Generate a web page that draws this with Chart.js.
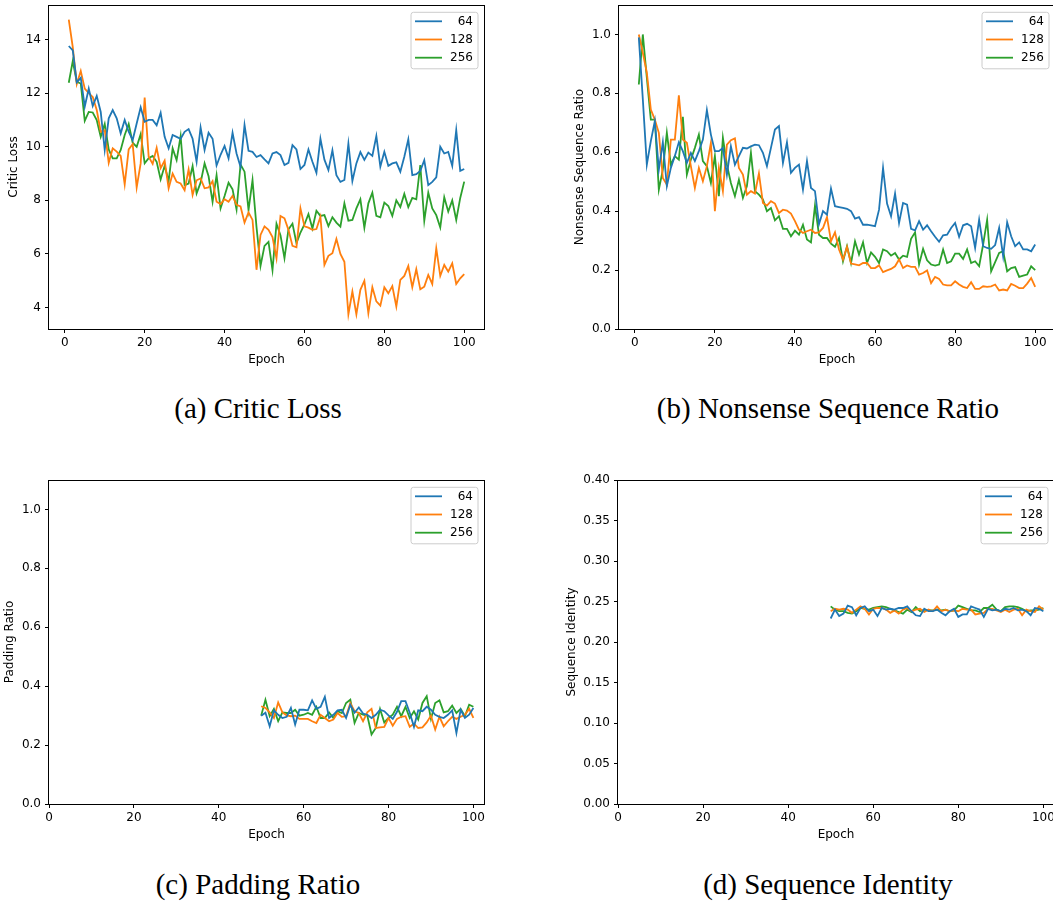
<!DOCTYPE html>
<html>
<head>
<meta charset="utf-8">
<script src="https://cdn.jsdelivr.net/npm/chart.js@4.4.1/dist/chart.umd.min.js"></script>
<style>
  html, body { margin: 0; padding: 0; background: #fff; }
  body { width: 1053px; height: 902px; overflow: hidden; position: relative; }
  canvas { position: absolute; }
  .caption { position: absolute; width: 500px; text-align: center; font-family: 'Liberation Serif', 'Times New Roman', serif; font-size: 29px; line-height: 29px; color: #000; white-space: nowrap; }
</style>
</head>
<body>
<canvas id="critic" width="500" height="380" style="left:0px;top:0px"></canvas>
<canvas id="nonsense" width="500" height="380" style="left:560px;top:0px"></canvas>
<canvas id="padding" width="500" height="380" style="left:0px;top:470px"></canvas>
<canvas id="identity" width="500" height="380" style="left:560px;top:470px"></canvas>
<div class="caption" style="left:8px;top:394px">(a) Critic Loss</div>
<div class="caption" style="left:578px;top:394px">(b) Nonsense Sequence Ratio</div>
<div class="caption" style="left:8px;top:870px">(c) Padding Ratio</div>
<div class="caption" style="left:578px;top:870px">(d) Sequence Identity</div>
<script>
const seriesLabels = ['  64', '128', '256'];
const seriesColors = ['#1f77b4', '#ff7f0e', '#2ca02c'];

const epochsFull = Array.from({ length: 100 }, (_, i) => i + 1);
const epochsLate = Array.from({ length: 51 }, (_, i) => i + 50);

const epochTicks = [0, 20, 40, 60, 80, 100];
const criticTicks = [4, 6, 8, 10, 12, 14];
const ratioTicks = [0, 0.2, 0.4, 0.6, 0.8, 1.0];
const identityTicks = [0, 0.05, 0.10, 0.15, 0.20, 0.25, 0.30, 0.35, 0.40];

// (a) critic loss, epochs 1..100
const critic64 = [13.76, 13.6, 12.4, 12.57, 11.5, 12.17, 11.52, 11.9, 11.3, 9.88,
  11.06, 11.37, 11.06, 10.5, 11.0, 10.56, 10.25, 10.87, 11.47, 10.93,
  11.0, 11.0, 10.8, 11.27, 10.37, 9.94, 10.44, 10.37, 10.3, 10.56,
  10.66, 10.3, 9.44, 10.72, 9.88, 10.52, 10.3, 9.3, 9.7, 10.03,
  9.57, 10.52, 9.75, 9.25, 10.81, 9.85, 9.81, 9.62, 9.69, 9.53,
  9.38, 9.75, 9.8, 9.69, 9.32, 9.4, 10.06, 9.9, 9.17, 9.32,
  9.9, 9.44, 9.03, 10.3, 9.52, 9.13, 9.87, 8.94, 8.69, 8.76,
  10.12, 8.72, 9.38, 9.8, 9.51, 9.78, 9.66, 10.4, 9.26, 9.81,
  9.29, 9.38, 9.42, 9.07, 9.63, 10.28, 8.94, 8.98, 9.1, 9.5,
  8.57, 8.69, 8.86, 10.0, 9.75, 9.81, 9.29, 10.62, 9.1, 9.17];
const critic128 = [14.74, 13.72, 12.34, 12.83, 12.17, 12.0, 11.86, 11.37, 10.56, 10.62,
  9.4, 9.94, 9.82, 9.66, 8.6, 9.9, 10.1, 8.48, 9.38, 11.84,
  9.63, 9.36, 9.96, 9.2, 9.48, 8.45, 9.0, 8.69, 8.63, 8.38,
  9.15, 8.2, 8.75, 8.82, 8.45, 8.48, 8.72, 7.95, 7.86, 8.04,
  7.95, 8.17, 7.83, 7.77, 7.17, 7.55, 7.27, 5.41, 6.71, 7.03,
  6.9, 6.63, 5.84, 7.42, 7.33, 6.9, 6.3, 6.25, 7.7, 7.03,
  6.98, 6.9, 6.93, 7.39, 5.59, 5.93, 6.03, 6.56, 6.0, 5.71,
  3.75, 4.6, 3.75, 4.66, 5.0, 3.79, 4.76, 4.23, 4.07, 4.76,
  4.53, 4.8, 4.04, 5.03, 5.18, 5.55, 4.76, 5.43, 4.68, 4.78,
  5.22, 4.88, 6.21, 5.18, 5.59, 5.34, 5.65, 4.88, 5.09, 5.25];
const critic256 = [12.39, 13.2, 12.42, 12.36, 10.97, 11.3, 11.28, 11.0, 10.37, 10.85,
  9.9, 9.57, 9.57, 9.88, 10.44, 10.85, 10.15, 10.0, 10.47, 9.38,
  9.57, 9.66, 9.44, 8.78, 9.29, 8.72, 9.94, 9.5, 10.4, 8.57,
  8.63, 9.28, 8.26, 8.66, 9.38, 8.9, 7.95, 8.94, 7.7, 8.16,
  8.66, 8.41, 7.66, 9.34, 9.07, 7.64, 8.76, 7.0, 5.55, 6.3,
  6.45, 5.4, 7.13, 6.7, 5.84, 6.92, 7.13, 6.4, 6.8, 7.1,
  7.49, 6.95, 7.61, 7.42, 7.45, 7.04, 7.37, 7.17, 7.02, 7.89,
  7.24, 7.27, 7.7, 8.04, 6.98, 7.89, 8.29, 7.42, 7.37, 7.92,
  7.79, 7.42, 8.0, 7.75, 8.24, 7.75, 8.09, 8.04, 9.32, 7.24,
  8.29, 7.7, 7.45, 6.99, 8.12, 7.58, 8.0, 7.27, 8.09, 8.7];

// (b) nonsense sequence ratio, epochs 1..100
const nonsense64 = [0.99, 0.78, 0.558, 0.638, 0.706, 0.541, 0.634, 0.485, 0.547, 0.587,
  0.634, 0.604, 0.564, 0.598, 0.57, 0.604, 0.643, 0.743, 0.66, 0.604,
  0.604, 0.615, 0.524, 0.62, 0.558, 0.587, 0.615, 0.613, 0.62, 0.626,
  0.624, 0.598, 0.553, 0.615, 0.677, 0.689, 0.564, 0.634, 0.53, 0.547,
  0.558, 0.473, 0.57, 0.479, 0.468, 0.356, 0.4, 0.388, 0.477, 0.417,
  0.414, 0.411, 0.408, 0.4, 0.375, 0.38, 0.354, 0.354, 0.352, 0.349,
  0.405, 0.547, 0.426, 0.383, 0.46, 0.36, 0.428, 0.422, 0.34, 0.335,
  0.366, 0.337, 0.352, 0.332, 0.313, 0.296, 0.318, 0.32, 0.343, 0.36,
  0.313, 0.352, 0.357, 0.349, 0.275, 0.371, 0.281, 0.275, 0.272, 0.285,
  0.343, 0.247, 0.362, 0.315, 0.281, 0.294, 0.27, 0.27, 0.264, 0.287];
const nonsense128 = [1.0, 0.938, 0.87, 0.745, 0.711, 0.666, 0.513, 0.49, 0.643, 0.643,
  0.793, 0.643, 0.632, 0.553, 0.479, 0.547, 0.502, 0.553, 0.632, 0.4,
  0.547, 0.468, 0.626, 0.641, 0.647, 0.547, 0.524, 0.456, 0.468, 0.46,
  0.528, 0.428, 0.419, 0.434, 0.426, 0.394, 0.405, 0.402, 0.392, 0.366,
  0.337, 0.326, 0.332, 0.337, 0.326, 0.328, 0.343, 0.38, 0.298, 0.328,
  0.27, 0.236, 0.279, 0.222, 0.219, 0.216, 0.224, 0.224, 0.207, 0.207,
  0.216, 0.193, 0.199, 0.204, 0.213, 0.236, 0.207, 0.216, 0.211, 0.211,
  0.185, 0.19, 0.199, 0.156, 0.177, 0.17, 0.151, 0.148, 0.148, 0.162,
  0.151, 0.143, 0.139, 0.159, 0.136, 0.136, 0.145, 0.143, 0.145, 0.151,
  0.131, 0.134, 0.131, 0.153, 0.147, 0.139, 0.139, 0.154, 0.173, 0.143];
const nonsense256 = [0.83, 1.0, 0.853, 0.711, 0.711, 0.473, 0.541, 0.666, 0.558, 0.587,
  0.575, 0.72, 0.524, 0.575, 0.615, 0.66, 0.57, 0.553, 0.496, 0.587,
  0.451, 0.649, 0.558, 0.496, 0.451, 0.507, 0.445, 0.485, 0.598, 0.468,
  0.456, 0.44, 0.4, 0.411, 0.369, 0.383, 0.34, 0.34, 0.315, 0.334,
  0.32, 0.354, 0.304, 0.294, 0.419, 0.32, 0.309, 0.309, 0.29, 0.279,
  0.309, 0.23, 0.281, 0.224, 0.298, 0.253, 0.294, 0.224, 0.26, 0.245,
  0.224, 0.27, 0.264, 0.249, 0.258, 0.236, 0.249, 0.245, 0.306, 0.328,
  0.219, 0.272, 0.233, 0.219, 0.215, 0.219, 0.27, 0.224, 0.23, 0.256,
  0.256, 0.238, 0.27, 0.224, 0.23, 0.213, 0.287, 0.371, 0.196, 0.227,
  0.258, 0.264, 0.196, 0.207, 0.21, 0.177, 0.181, 0.185, 0.213, 0.2];

// (c) padding ratio, epochs 50..100
const padding64 = [0.30, 0.31, 0.264, 0.318, 0.303, 0.292, 0.296, 0.326, 0.27, 0.32,
  0.32, 0.318, 0.352, 0.323, 0.33, 0.364, 0.292, 0.303, 0.318, 0.32,
  0.292, 0.337, 0.31, 0.328, 0.307, 0.303, 0.292, 0.303, 0.32, 0.315,
  0.301, 0.289, 0.313, 0.349, 0.349, 0.31, 0.262, 0.318, 0.315, 0.33,
  0.32, 0.303, 0.296, 0.292, 0.303, 0.318, 0.241, 0.32, 0.292, 0.303, 0.326];
const padding128 = [0.332, 0.326, 0.311, 0.292, 0.345, 0.311, 0.301, 0.298, 0.30, 0.289,
  0.289, 0.289, 0.281, 0.275, 0.303, 0.292, 0.281, 0.287, 0.309, 0.296,
  0.298, 0.343, 0.315, 0.309, 0.281, 0.311, 0.323, 0.258, 0.26, 0.262,
  0.292, 0.266, 0.289, 0.296, 0.298, 0.262, 0.273, 0.258, 0.26, 0.277,
  0.30, 0.253, 0.296, 0.264, 0.281, 0.296, 0.289, 0.296, 0.303, 0.323, 0.292];
const padding256 = [0.30, 0.354, 0.298, 0.323, 0.281, 0.311, 0.309, 0.309, 0.32, 0.30,
  0.303, 0.309, 0.303, 0.33, 0.292, 0.292, 0.311, 0.292, 0.315, 0.309,
  0.343, 0.354, 0.275, 0.309, 0.303, 0.30, 0.236, 0.258, 0.323, 0.277,
  0.292, 0.303, 0.33, 0.298, 0.33, 0.292, 0.315, 0.287, 0.343, 0.366,
  0.289, 0.343, 0.352, 0.311, 0.315, 0.334, 0.309, 0.323, 0.298, 0.337, 0.33];

// (d) sequence identity, epochs 50..100
const identity64 = [0.229, 0.24, 0.232, 0.235, 0.245, 0.243, 0.233, 0.242, 0.244, 0.238,
  0.24, 0.232, 0.242, 0.24, 0.241, 0.24, 0.242, 0.242, 0.244, 0.238,
  0.233, 0.232, 0.241, 0.238, 0.238, 0.24, 0.236, 0.233, 0.238, 0.241,
  0.231, 0.234, 0.234, 0.244, 0.242, 0.24, 0.231, 0.241, 0.239, 0.24,
  0.238, 0.241, 0.24, 0.242, 0.239, 0.24, 0.238, 0.233, 0.242, 0.241, 0.238];
const identity128 = [0.238, 0.241, 0.24, 0.241, 0.24, 0.236, 0.24, 0.244, 0.241, 0.234,
  0.241, 0.242, 0.242, 0.24, 0.236, 0.239, 0.235, 0.24, 0.242, 0.238,
  0.24, 0.241, 0.237, 0.24, 0.238, 0.244, 0.238, 0.24, 0.238, 0.239,
  0.238, 0.241, 0.24, 0.24, 0.234, 0.235, 0.236, 0.241, 0.241, 0.239,
  0.237, 0.24, 0.237, 0.24, 0.241, 0.233, 0.24, 0.238, 0.237, 0.244, 0.24];
const identity256 = [0.244, 0.24, 0.238, 0.238, 0.236, 0.235, 0.238, 0.242, 0.241, 0.24,
  0.242, 0.243, 0.244, 0.243, 0.241, 0.239, 0.237, 0.235, 0.24, 0.237,
  0.243, 0.238, 0.24, 0.239, 0.239, 0.24, 0.239, 0.24, 0.238, 0.239,
  0.245, 0.243, 0.241, 0.239, 0.239, 0.237, 0.242, 0.242, 0.246, 0.24,
  0.238, 0.243, 0.244, 0.244, 0.243, 0.241, 0.238, 0.239, 0.239, 0.24, 0.242];

const tickFont = { family: 'DejaVu Sans', size: 12 };

// top/right spines + matplotlib-style legend box in the upper right corner
const framePlugin = {
  id: 'frame',
  afterDraw(chart) {
    const { ctx, chartArea: a } = chart;
    ctx.save();
    ctx.strokeStyle = '#000';
    ctx.lineWidth = 1;
    ctx.strokeRect(Math.round(a.left) - 0.5, Math.round(a.top) + 0.5,
      Math.round(a.right) - Math.round(a.left) + 1, Math.round(a.bottom) - Math.round(a.top));

    const boxW = 67, boxH = 56.5;
    const bx = a.right - 6.5 - boxW, by = a.top + 6.8;
    ctx.beginPath();
    ctx.roundRect(bx + 0.5, by + 0.5, boxW, boxH, 2.5);
    ctx.fillStyle = 'rgba(255,255,255,0.8)';
    ctx.fill();
    ctx.strokeStyle = '#cccccc';
    ctx.stroke();

    ctx.font = '12px "DejaVu Sans"';
    ctx.textAlign = 'right';
    ctx.textBaseline = 'middle';
    chart.data.datasets.forEach((ds, i) => {
      const ry = by + 9.5 + i * 18.2;
      ctx.beginPath();
      ctx.moveTo(bx + 4.5, ry);
      ctx.lineTo(bx + 31.5, ry);
      ctx.strokeStyle = ds.borderColor;
      ctx.lineWidth = 1.8;
      ctx.stroke();
      ctx.fillStyle = '#000';
      ctx.fillText(ds.label.trim(), bx + boxW - 4.5, ry + 0.5);
    });
    ctx.restore();
  }
};

const makeChart = (id, cfg) => {
  const ctx = document.getElementById(id).getContext('2d');
  const datasets = cfg.series.map((values, i) => ({
    label: seriesLabels[i],
    data: values.map((v, j) => ({ x: cfg.epochs[j], y: v })),
    borderColor: seriesColors[i],
    backgroundColor: seriesColors[i],
    borderWidth: 1.8,
    pointRadius: 0,
    tension: 0,
    fill: false
  }));
  const zeroPad = s => { s.paddingTop = 0; s.paddingBottom = 0; s.paddingLeft = 0; s.paddingRight = 0; };

  return new Chart(ctx, {
    type: 'line',
    data: { datasets },
    plugins: [framePlugin],
    options: {
      responsive: false,
      animation: false,
      devicePixelRatio: 1,
      layout: { padding: { left: 0, top: cfg.padTop, right: cfg.padRight, bottom: 0 } },
      plugins: { legend: { display: false }, tooltip: { enabled: false } },
      scales: {
        x: {
          type: 'linear',
          min: cfg.xMin,
          max: cfg.xMax,
          afterBuildTicks: s => { s.ticks = epochTicks.map(v => ({ value: v })); },
          afterFit: s => { s.height = cfg.xHeight; zeroPad(s); },
          border: { display: false },
          grid: { drawOnChartArea: false, drawTicks: true, tickLength: 4, tickColor: '#000', tickWidth: 1 },
          ticks: { color: '#000', font: tickFont, padding: 3, maxRotation: 0, autoSkip: false, callback: v => String(v) },
          title: { display: true, text: 'Epoch', color: '#000', font: tickFont, padding: { top: 0, bottom: cfg.xTitlePad } }
        },
        y: {
          type: 'linear',
          min: cfg.yMin,
          max: cfg.yMax,
          afterBuildTicks: s => { s.ticks = cfg.yTicks.map(v => ({ value: v })); },
          afterFit: s => { s.width = cfg.yWidth; zeroPad(s); },
          border: { display: false },
          grid: { drawOnChartArea: false, drawTicks: true, tickLength: 4, tickColor: '#000', tickWidth: 1 },
          ticks: { color: '#000', font: tickFont, padding: 4, autoSkip: false, callback: v => v.toFixed(cfg.decimals) },
          title: { display: true, text: cfg.yTitle, color: '#000', font: tickFont, padding: { top: cfg.yTitlePad, bottom: 0 } }
        }
      }
    }
  });
};

makeChart('critic', {
  epochs: epochsFull, series: [critic64, critic128, critic256],
  xMin: -3.95, xMax: 104.95, yMin: 3.2, yMax: 15.29, yTicks: criticTicks, decimals: 0,
  yTitle: 'Critic Loss', padTop: 5, padRight: 16, yWidth: 49, xHeight: 51, xTitlePad: 12.8, yTitlePad: 6.8
});
makeChart('nonsense', {
  epochs: epochsFull, series: [nonsense64, nonsense128, nonsense256],
  xMin: -3.95, xMax: 104.95, yMin: 0, yMax: 1.1, yTicks: ratioTicks, decimals: 1,
  yTitle: 'Nonsense Sequence Ratio', padTop: 5, padRight: 5, yWidth: 59, xHeight: 51, xTitlePad: 12.8, yTitlePad: 12.8
});
makeChart('padding', {
  epochs: epochsLate, series: [padding64, padding128, padding256],
  xMin: 0, xMax: 102.5, yMin: 0, yMax: 1.1, yTicks: ratioTicks, decimals: 1,
  yTitle: 'Padding Ratio', padTop: 10, padRight: 16, yWidth: 49, xHeight: 46, xTitlePad: 7.8, yTitlePad: 2.8
});
makeChart('identity', {
  epochs: epochsLate, series: [identity64, identity128, identity256],
  xMin: 0, xMax: 102.5, yMin: 0, yMax: 0.4, yTicks: identityTicks, decimals: 2,
  yTitle: 'Sequence Identity', padTop: 10, padRight: 6, yWidth: 58, xHeight: 46, xTitlePad: 7.8, yTitlePad: 4.5
});
</script>
</body>
</html>
